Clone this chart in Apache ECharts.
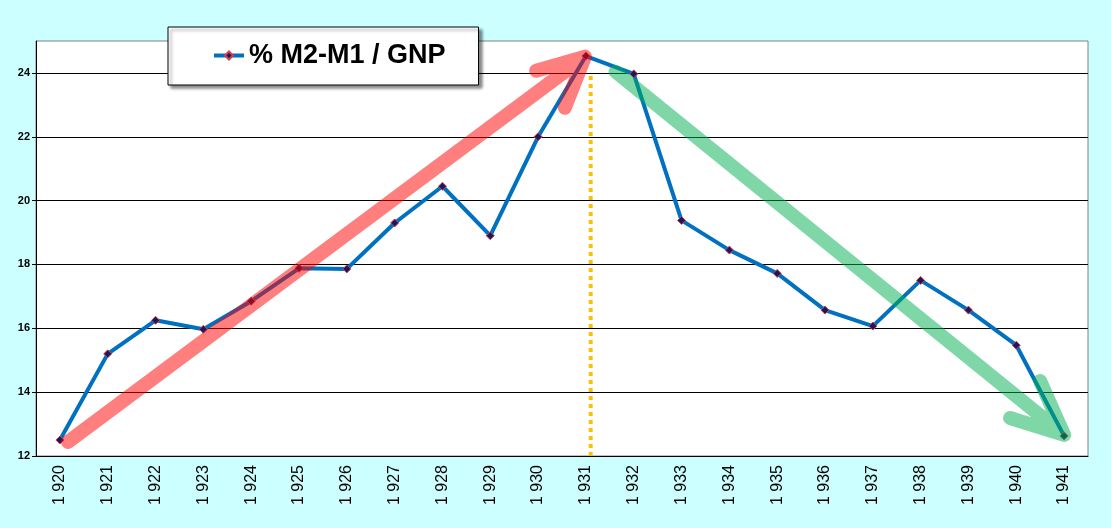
<!DOCTYPE html>
<html>
<head>
<meta charset="utf-8">
<title>% M2-M1 / GNP</title>
<script src="https://cdn.jsdelivr.net/npm/echarts@6/dist/echarts.min.js"></script>
<style>
  html, body { margin: 0; padding: 0; background: #ccffff; }
  #main { width: 1111px; height: 528px; }
</style>
</head>
<body>
<div id="main"></div>
<script type="text/javascript">
    // years on the x axis (written as in the picture, with a space)
    var years = ['1 920', '1 921', '1 922', '1 923', '1 924', '1 925', '1 926', '1 927', '1 928', '1 929', '1 930',
                 '1 931', '1 932', '1 933', '1 934', '1 935', '1 936', '1 937', '1 938', '1 939', '1 940', '1 941'];
    // % (M2-M1) / GNP
    var ratio = [12.5, 15.2, 16.25, 15.97, 16.85, 17.88, 17.86, 19.3, 20.45, 18.9, 22.0,
                 24.53, 23.97, 19.38, 18.45, 17.72, 16.57, 16.07, 17.5, 16.57, 15.47, 12.63];
    var seriesName = '% M2-M1 / GNP';

    // annotations, in [category index, value] : start, tip, barb, barb
    var redArrow = [[0.17, 12.44], [10.98, 24.51], [9.96, 24.07], [10.56, 22.91]];
    var greenArrow = [[11.62, 24.04], [21.0, 12.66], [20.50, 14.35], [19.87, 13.19]];
    var peakLine = [[11.1, 12], [11.1, 24]];

    var font = '"Liberation Sans", Arial, sans-serif';

    function arrowSeries(points, color) {
        return {
            type: 'custom',
            xAxisIndex: 1,
            z: 5,
            silent: true,
            data: [points.reduce(function (a, p) { return a.concat(p); }, [])],
            encode: { x: [0, 2, 4, 6], y: [1, 3, 5, 7] },
            renderItem: function (params, api) {
                var p = [];
                for (var i = 0; i < 4; i++) {
                    p.push(api.coord([api.value(2 * i), api.value(2 * i + 1)]));
                }
                var d = 'M' + p[0][0] + ' ' + p[0][1] + 'L' + p[1][0] + ' ' + p[1][1] +
                        'M' + p[2][0] + ' ' + p[2][1] + 'L' + p[1][0] + ' ' + p[1][1] +
                        'L' + p[3][0] + ' ' + p[3][1];
                return {
                    type: 'path',
                    shape: { pathData: d },
                    style: {
                        fill: 'none',
                        stroke: color,
                        lineWidth: 14,
                        lineCap: 'round',
                        lineJoin: 'round',
                        opacity: 0.5
                    }
                };
            }
        };
    }

    var dom = document.getElementById('main');
    var myChart = echarts.init(dom);
    var option = {
        backgroundColor: '#ccffff',
        animation: false,
        textStyle: { fontFamily: font },

        legend: {
            data: [seriesName],
            left: 168,
            top: 27,
            padding: [15, 33, 16, 44],
            itemWidth: 30,
            itemHeight: 10,
            itemGap: 5,
            backgroundColor: '#fff',
            borderColor: '#000',
            borderWidth: 1,
            shadowColor: 'rgba(0,0,0,0.45)',
            shadowBlur: 3,
            shadowOffsetX: 3,
            shadowOffsetY: 3,
            lineStyle: { width: 4 },
            textStyle: { fontSize: 27, fontWeight: 'bold', color: '#000', fontFamily: font }
        },

        grid: {
            left: 36, right: 23, top: 41, bottom: 72,
            show: true,
            backgroundColor: '#fff',
            borderColor: '#808080',
            borderWidth: 1
        },

        xAxis: [
            {
                type: 'category',
                data: years,
                axisLine: { onZero: false, lineStyle: { color: '#000', width: 1 } },
                axisTick: { length: 5, lineStyle: { color: '#000' } },
                axisLabel: {
                    rotate: 90,
                    margin: 9,
                    fontSize: 16,
                    color: '#000',
                    fontFamily: font
                },
                splitLine: { show: false }
            },
            {
                type: 'value',
                min: -0.5,
                max: 21.5,
                show: false
            }
        ],

        yAxis: {
            type: 'value',
            min: 12,
            max: 25,
            interval: 2,
            axisLine: { show: true, onZero: false, lineStyle: { color: '#000' } },
            axisTick: { show: true, length: 4, lineStyle: { color: '#000' } },
            axisLabel: {
                showMaxLabel: false,
                margin: 6,
                fontSize: 11,
                fontWeight: 'bold',
                color: '#000',
                fontFamily: font
            },
            splitLine: { show: true, showMaxLine: false, lineStyle: { color: '#000', width: 1 } }
        },

        series: [
            {
                name: seriesName,
                type: 'line',
                data: ratio,
                z: 3,
                symbol: 'diamond',
                symbolSize: 8,
                lineStyle: { color: '#0070c0', width: 4 },
                itemStyle: { color: '#1a1a5a', borderColor: '#d04050', borderWidth: 1 }
            },
            {
                name: 'peak',
                type: 'line',
                xAxisIndex: 1,
                data: peakLine,
                z: 2,
                symbol: 'none',
                silent: true,
                lineStyle: { color: '#ffc000', width: 4, type: [4, 4], cap: 'butt' }
            },
            arrowSeries(redArrow, 'rgb(255,0,0)'),
            arrowSeries(greenArrow, 'rgb(0,176,80)')
        ]
    };

    if (option && typeof option === 'object') {
        myChart.setOption(option, true);
    }
</script>
</body>
</html>
